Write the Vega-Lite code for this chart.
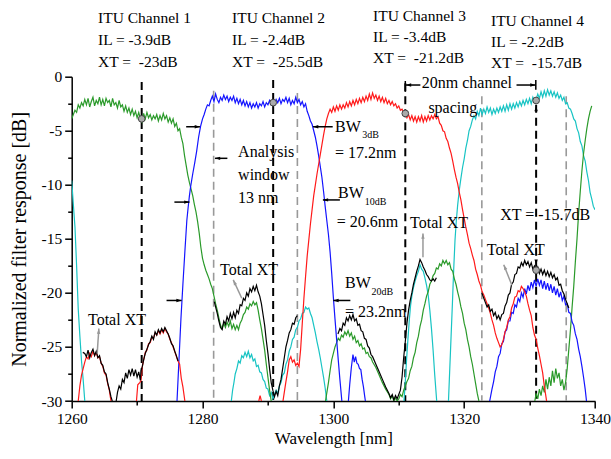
{
"$schema":"https://vega.github.io/schema/vega-lite/v6.json",
"width":523.3,"height":324.3,
"autosize":{"type":"none"},
"padding":{"left":71.7,"top":76.7,"right":16,"bottom":58},
"config":{"view":{"stroke":null},"font":"Liberation Serif",
"axis":{"grid":false,"domainColor":"#000","domainWidth":1.5,"tickColor":"#000","tickWidth":1.5,"labelFont":"Liberation Serif","labelFontSize":15.5,"labelColor":"#000","titleFont":"Liberation Serif","titleFontWeight":"normal","titleColor":"#000","labelFlush":false,"labelOverlap":false}},
"datasets":{
"green":[
{"x":1260.0,"y":-3.9},{"x":1260.25,"y":-3.5},{"x":1260.5,"y":-3.1},{"x":1260.75,"y":-3.3},{"x":1261.0,"y":-2.6},{"x":1261.25,"y":-2.9},{"x":1261.5,"y":-2.4},{"x":1261.75,"y":-2.7},{"x":1262.0,"y":-2.1},{"x":1262.25,"y":-2.6},{"x":1262.5,"y":-2.0},{"x":1262.75,"y":-2.8},{"x":1263.0,"y":-2.3},{"x":1263.25,"y":-1.9},{"x":1263.5,"y":-2.7},{"x":1263.75,"y":-2.2},{"x":1264.0,"y":-2.5},{"x":1264.25,"y":-1.9},{"x":1264.5,"y":-2.6},{"x":1264.75,"y":-2.1},{"x":1265.0,"y":-2.7},{"x":1265.25,"y":-2.0},{"x":1265.5,"y":-2.4},{"x":1265.75,"y":-2.2},{"x":1266.0,"y":-2.8},{"x":1266.25,"y":-2.0},{"x":1266.5,"y":-2.6},{"x":1266.75,"y":-2.4},{"x":1267.0,"y":-2.9},{"x":1267.25,"y":-2.2},{"x":1267.5,"y":-2.8},{"x":1267.75,"y":-2.6},{"x":1268.0,"y":-3.2},{"x":1268.25,"y":-2.7},{"x":1268.5,"y":-3.3},{"x":1268.75,"y":-2.9},{"x":1269.0,"y":-3.5},{"x":1269.25,"y":-3.0},{"x":1269.5,"y":-3.6},{"x":1269.75,"y":-3.2},{"x":1270.0,"y":-3.8},{"x":1270.25,"y":-3.3},{"x":1270.5,"y":-3.9},{"x":1270.75,"y":-4.2},{"x":1271.0,"y":-3.4},{"x":1271.25,"y":-3.9},{"x":1271.5,"y":-3.3},{"x":1271.75,"y":-3.8},{"x":1272.0,"y":-3.5},{"x":1272.25,"y":-4.0},{"x":1272.5,"y":-3.6},{"x":1272.75,"y":-3.9},{"x":1273.0,"y":-3.5},{"x":1273.25,"y":-4.1},{"x":1273.5,"y":-3.6},{"x":1273.75,"y":-4.0},{"x":1274.0,"y":-3.4},{"x":1274.25,"y":-3.9},{"x":1274.5,"y":-3.6},{"x":1274.75,"y":-4.2},{"x":1275.0,"y":-3.8},{"x":1275.25,"y":-4.3},{"x":1275.5,"y":-3.9},{"x":1275.75,"y":-4.6},{"x":1276.0,"y":-4.3},{"x":1276.25,"y":-5.0},{"x":1276.5,"y":-4.8},{"x":1276.75,"y":-5.6},{"x":1277.0,"y":-6.2},{"x":1277.25,"y":-7.3},{"x":1277.5,"y":-8.2},{"x":1277.75,"y":-9.1},{"x":1278.0,"y":-9.8},{"x":1278.25,"y":-10.4},{"x":1278.5,"y":-11.0},{"x":1278.75,"y":-11.8},{"x":1279.0,"y":-12.5},{"x":1279.25,"y":-13.4},{"x":1279.5,"y":-14.5},{"x":1279.75,"y":-15.8},{"x":1280.0,"y":-16.8},{"x":1280.25,"y":-17.4},{"x":1280.5,"y":-17.9},{"x":1280.75,"y":-18.3},{"x":1281.0,"y":-18.7},{"x":1281.25,"y":-19.2},{"x":1281.5,"y":-19.6},{"x":1281.75,"y":-20.3},{"x":1282.0,"y":-21.0},{"x":1282.25,"y":-21.6},{"x":1282.5,"y":-22.3},{"x":1282.75,"y":-23.0},{"x":1283.0,"y":-23.3},{"x":1283.25,"y":-22.8},{"x":1283.5,"y":-23.2},{"x":1283.75,"y":-22.7},{"x":1284.0,"y":-23.1},{"x":1284.25,"y":-22.6},{"x":1284.5,"y":-23.3},{"x":1284.75,"y":-22.9},{"x":1285.0,"y":-23.4},{"x":1285.25,"y":-23.0},{"x":1285.5,"y":-23.4},{"x":1285.75,"y":-22.8},{"x":1286.0,"y":-22.5},{"x":1286.25,"y":-22.0},{"x":1286.5,"y":-21.8},{"x":1286.75,"y":-21.3},{"x":1287.0,"y":-21.5},{"x":1287.25,"y":-21.0},{"x":1287.5,"y":-21.2},{"x":1287.75,"y":-20.8},{"x":1288.0,"y":-21.1},{"x":1288.25,"y":-20.9},{"x":1288.5,"y":-21.6},{"x":1288.75,"y":-22.5},{"x":1289.0,"y":-23.3},{"x":1289.25,"y":-24.3},{"x":1289.5,"y":-25.3},{"x":1289.75,"y":-26.6},{"x":1290.0,"y":-27.8},{"x":1290.25,"y":-29.0},{"x":1290.5,"y":-30.0},
{"x":1298.8,"y":-30,"g":2},{"x":1299.25,"y":-28.3,"g":2},{"x":1299.5,"y":-27.2,"g":2},{"x":1299.75,"y":-26.2,"g":2},{"x":1300.0,"y":-25.6,"g":2},{"x":1300.25,"y":-25.0,"g":2},{"x":1300.5,"y":-24.6,"g":2},{"x":1300.75,"y":-24.2,"g":2},{"x":1301.0,"y":-24.4,"g":2},{"x":1301.25,"y":-23.9,"g":2},{"x":1301.5,"y":-24.1,"g":2},{"x":1301.75,"y":-23.6,"g":2},{"x":1302.0,"y":-23.9,"g":2},{"x":1302.25,"y":-23.5,"g":2},{"x":1302.5,"y":-24.0,"g":2},{"x":1302.75,"y":-23.7,"g":2},{"x":1303.0,"y":-24.3,"g":2},{"x":1303.25,"y":-24.0,"g":2},{"x":1303.5,"y":-24.6,"g":2},{"x":1303.75,"y":-24.4,"g":2},{"x":1304.0,"y":-24.9,"g":2},{"x":1304.25,"y":-24.7,"g":2},{"x":1304.5,"y":-25.2,"g":2},{"x":1304.75,"y":-25.1,"g":2},{"x":1305.0,"y":-25.6,"g":2},{"x":1305.25,"y":-25.5,"g":2},{"x":1305.5,"y":-25.9,"g":2},{"x":1305.75,"y":-26.0,"g":2},{"x":1306.0,"y":-26.4,"g":2},{"x":1306.5,"y":-26.9,"g":2},{"x":1307.0,"y":-27.6,"g":2},{"x":1307.5,"y":-28.3,"g":2},{"x":1308.0,"y":-28.9,"g":2},{"x":1308.5,"y":-29.4,"g":2},{"x":1308.75,"y":-29.8,"g":2},{"x":1309.0,"y":-29.5,"g":2},{"x":1309.25,"y":-30.0,"g":2},{"x":1309.5,"y":-29.7,"g":2},{"x":1309.75,"y":-30.0,"g":2},{"x":1310.0,"y":-29.8,"g":2},{"x":1310.25,"y":-29.4,"g":2},{"x":1310.5,"y":-29.6,"g":2},{"x":1310.75,"y":-29.0,"g":2},{"x":1311.0,"y":-28.6,"g":2},{"x":1311.25,"y":-28.2,"g":2},{"x":1311.5,"y":-27.9,"g":2},{"x":1311.75,"y":-27.2,"g":2},{"x":1312.0,"y":-26.8,"g":2},{"x":1312.25,"y":-26.0,"g":2},{"x":1312.5,"y":-25.5,"g":2},{"x":1312.75,"y":-24.6,"g":2},{"x":1313.0,"y":-24.0,"g":2},{"x":1313.25,"y":-23.1,"g":2},{"x":1313.5,"y":-22.5,"g":2},{"x":1313.75,"y":-21.6,"g":2},{"x":1314.0,"y":-21.0,"g":2},{"x":1314.25,"y":-20.3,"g":2},{"x":1314.5,"y":-19.9,"g":2},{"x":1314.75,"y":-19.2,"g":2},{"x":1315.0,"y":-18.9,"g":2},{"x":1315.25,"y":-18.4,"g":2},{"x":1315.5,"y":-18.2,"g":2},{"x":1315.75,"y":-17.7,"g":2},{"x":1316.0,"y":-17.8,"g":2},{"x":1316.25,"y":-17.3,"g":2},{"x":1316.5,"y":-17.5,"g":2},{"x":1316.75,"y":-17.0,"g":2},{"x":1317.0,"y":-17.3,"g":2},{"x":1317.25,"y":-17.0,"g":2},{"x":1317.5,"y":-17.4,"g":2},{"x":1317.75,"y":-17.2,"g":2},{"x":1318.0,"y":-17.8,"g":2},{"x":1318.25,"y":-18.0,"g":2},{"x":1318.5,"y":-18.7,"g":2},{"x":1318.75,"y":-19.2,"g":2},{"x":1319.0,"y":-19.9,"g":2},{"x":1319.25,"y":-20.5,"g":2},{"x":1319.5,"y":-21.3,"g":2},{"x":1319.75,"y":-21.9,"g":2},{"x":1320.0,"y":-22.8,"g":2},{"x":1320.25,"y":-23.4,"g":2},{"x":1320.5,"y":-24.3,"g":2},{"x":1320.75,"y":-25.0,"g":2},{"x":1321.0,"y":-25.9,"g":2},{"x":1321.25,"y":-26.6,"g":2},{"x":1321.5,"y":-27.5,"g":2},{"x":1321.75,"y":-28.4,"g":2},{"x":1322.0,"y":-29.3,"g":2},{"x":1322.25,"y":-30.0,"g":2},
{"x":1330.8,"y":-30,"g":3},{"x":1331.0,"y":-29.3,"g":3},{"x":1331.25,"y":-29.8,"g":3},{"x":1331.5,"y":-28.9,"g":3},{"x":1331.75,"y":-29.5,"g":3},{"x":1332.0,"y":-28.6,"g":3},{"x":1332.25,"y":-29.2,"g":3},{"x":1332.5,"y":-28.0,"g":3},{"x":1332.75,"y":-28.9,"g":3},{"x":1333.0,"y":-27.8,"g":3},{"x":1333.25,"y":-28.6,"g":3},{"x":1333.5,"y":-27.2,"g":3},{"x":1333.75,"y":-28.3,"g":3},{"x":1334.0,"y":-27.0,"g":3},{"x":1334.25,"y":-27.9,"g":3},{"x":1334.5,"y":-27.4,"g":3},{"x":1334.75,"y":-28.6,"g":3},{"x":1335.0,"y":-28.0,"g":3},{"x":1335.25,"y":-29.0,"g":3},{"x":1335.5,"y":-28.3,"g":3},{"x":1335.75,"y":-27.0,"g":3},{"x":1336.0,"y":-25.2,"g":3},{"x":1336.25,"y":-23.4,"g":3},{"x":1336.5,"y":-21.3,"g":3},{"x":1336.75,"y":-19.4,"g":3},{"x":1337.0,"y":-17.1,"g":3},{"x":1337.25,"y":-15.0,"g":3},{"x":1337.5,"y":-12.6,"g":3},{"x":1337.75,"y":-10.6,"g":3},{"x":1338.0,"y":-8.7,"g":3},{"x":1338.25,"y":-7.1,"g":3},{"x":1338.5,"y":-5.9,"g":3},{"x":1338.75,"y":-4.8,"g":3},{"x":1339.0,"y":-3.9,"g":3},{"x":1339.25,"y":-3.2,"g":3},{"x":1339.5,"y":-2.7,"g":3}
],
"blue":[
{"x":1276.1,"y":-30},{"x":1276.4,"y":-26.2},{"x":1276.7,"y":-22.4},{"x":1277.0,"y":-19.2},{"x":1277.3,"y":-16.2},{"x":1277.6,"y":-13.3},{"x":1277.8,"y":-12.1},{"x":1278.0,"y":-11.0},{"x":1278.2,"y":-10.1},{"x":1278.5,"y":-9.0},{"x":1278.8,"y":-8.0},{"x":1279.1,"y":-6.9},{"x":1279.4,"y":-5.6},{"x":1279.7,"y":-4.6},{"x":1280.0,"y":-3.9},{"x":1280.25,"y":-3.5},{"x":1280.5,"y":-3.0},{"x":1280.75,"y":-2.6},{"x":1281.0,"y":-2.7},{"x":1281.25,"y":-2.2},{"x":1281.5,"y":-1.8},{"x":1281.75,"y":-2.3},{"x":1282.0,"y":-1.6},{"x":1282.25,"y":-2.1},{"x":1282.5,"y":-2.4},{"x":1282.75,"y":-1.9},{"x":1283.0,"y":-2.2},{"x":1283.25,"y":-1.7},{"x":1283.5,"y":-2.1},{"x":1283.75,"y":-1.8},{"x":1284.0,"y":-2.3},{"x":1284.25,"y":-1.9},{"x":1284.5,"y":-2.2},{"x":1284.75,"y":-1.8},{"x":1285.0,"y":-2.4},{"x":1285.25,"y":-2.0},{"x":1285.5,"y":-2.5},{"x":1285.75,"y":-2.1},{"x":1286.0,"y":-2.6},{"x":1286.25,"y":-2.2},{"x":1286.5,"y":-2.7},{"x":1286.75,"y":-2.3},{"x":1287.0,"y":-2.8},{"x":1287.25,"y":-2.4},{"x":1287.5,"y":-2.9},{"x":1287.75,"y":-2.5},{"x":1288.0,"y":-2.8},{"x":1288.25,"y":-2.4},{"x":1288.5,"y":-2.9},{"x":1288.75,"y":-2.5},{"x":1289.0,"y":-2.7},{"x":1289.25,"y":-2.3},{"x":1289.5,"y":-2.8},{"x":1289.75,"y":-2.4},{"x":1290.0,"y":-2.6},{"x":1290.25,"y":-2.2},{"x":1290.5,"y":-2.6},{"x":1290.75,"y":-2.4},{"x":1291.0,"y":-2.5},{"x":1291.25,"y":-2.1},{"x":1291.5,"y":-2.4},{"x":1291.75,"y":-2.0},{"x":1292.0,"y":-2.5},{"x":1292.25,"y":-2.1},{"x":1292.5,"y":-2.3},{"x":1292.75,"y":-1.9},{"x":1293.0,"y":-2.4},{"x":1293.25,"y":-2.0},{"x":1293.5,"y":-2.6},{"x":1293.75,"y":-2.2},{"x":1294.0,"y":-2.5},{"x":1294.25,"y":-1.9},{"x":1294.5,"y":-2.4},{"x":1294.75,"y":-2.1},{"x":1295.0,"y":-2.6},{"x":1295.25,"y":-2.3},{"x":1295.5,"y":-2.8},{"x":1295.75,"y":-2.5},{"x":1296.0,"y":-3.2},{"x":1296.25,"y":-3.6},{"x":1296.5,"y":-4.1},{"x":1296.75,"y":-4.4},{"x":1297.0,"y":-5.0},{"x":1297.25,"y":-5.6},{"x":1297.5,"y":-6.4},{"x":1297.75,"y":-7.3},{"x":1298.0,"y":-8.3},{"x":1298.25,"y":-9.3},{"x":1298.5,"y":-10.6},{"x":1298.75,"y":-12.0},{"x":1299.0,"y":-13.3},{"x":1299.25,"y":-14.6},{"x":1299.5,"y":-16.2},{"x":1299.75,"y":-18.2},{"x":1300.0,"y":-20.4},{"x":1300.25,"y":-22.4},{"x":1300.5,"y":-24.3},{"x":1300.75,"y":-26.2},{"x":1301.0,"y":-28.0},{"x":1301.3,"y":-30},
{"x":1302.3,"y":-30,"g":2},{"x":1302.5,"y":-28.5,"g":2},{"x":1302.75,"y":-26.9,"g":2},{"x":1303.0,"y":-25.7,"g":2},{"x":1303.2,"y":-26.4,"g":2},{"x":1303.4,"y":-25.9,"g":2},{"x":1303.6,"y":-26.5,"g":2},{"x":1303.8,"y":-26.6,"g":2},{"x":1304.0,"y":-27.0,"g":2},{"x":1304.2,"y":-27.1,"g":2},{"x":1304.4,"y":-28.0,"g":2},{"x":1304.6,"y":-28.7,"g":2},{"x":1304.8,"y":-29.6,"g":2},{"x":1304.9,"y":-30,"g":2},
{"x":1323.9,"y":-30,"g":3},{"x":1324.25,"y":-28.9,"g":3},{"x":1324.5,"y":-28.2,"g":3},{"x":1324.75,"y":-27.3,"g":3},{"x":1325.0,"y":-26.8,"g":3},{"x":1325.25,"y":-25.9,"g":3},{"x":1325.5,"y":-25.6,"g":3},{"x":1325.75,"y":-24.7,"g":3},{"x":1326.0,"y":-24.5,"g":3},{"x":1326.25,"y":-23.6,"g":3},{"x":1326.5,"y":-23.4,"g":3},{"x":1326.75,"y":-22.6,"g":3},{"x":1327.0,"y":-22.6,"g":3},{"x":1327.25,"y":-21.8,"g":3},{"x":1327.5,"y":-21.9,"g":3},{"x":1327.75,"y":-21.1,"g":3},{"x":1328.0,"y":-21.3,"g":3},{"x":1328.25,"y":-20.5,"g":3},{"x":1328.5,"y":-20.8,"g":3},{"x":1328.75,"y":-20.0,"g":3},{"x":1329.0,"y":-20.4,"g":3},{"x":1329.25,"y":-19.6,"g":3},{"x":1329.5,"y":-20.1,"g":3},{"x":1329.75,"y":-19.3,"g":3},{"x":1330.0,"y":-19.8,"g":3},{"x":1330.25,"y":-19.0,"g":3},{"x":1330.5,"y":-19.5,"g":3},{"x":1330.75,"y":-18.8,"g":3},{"x":1331.0,"y":-19.4,"g":3},{"x":1331.25,"y":-18.7,"g":3},{"x":1331.5,"y":-19.3,"g":3},{"x":1331.75,"y":-18.8,"g":3},{"x":1332.0,"y":-19.6,"g":3},{"x":1332.25,"y":-18.9,"g":3},{"x":1332.5,"y":-19.7,"g":3},{"x":1332.75,"y":-19.1,"g":3},{"x":1333.0,"y":-19.8,"g":3},{"x":1333.25,"y":-19.2,"g":3},{"x":1333.5,"y":-20.0,"g":3},{"x":1333.75,"y":-19.4,"g":3},{"x":1334.0,"y":-20.2,"g":3},{"x":1334.25,"y":-19.6,"g":3},{"x":1334.5,"y":-20.4,"g":3},{"x":1334.75,"y":-19.9,"g":3},{"x":1335.0,"y":-20.7,"g":3},{"x":1335.25,"y":-20.3,"g":3},{"x":1335.5,"y":-21.1,"g":3},{"x":1335.75,"y":-21.0,"g":3},{"x":1336.0,"y":-21.8,"g":3},{"x":1336.25,"y":-21.9,"g":3},{"x":1336.5,"y":-22.7,"g":3},{"x":1336.75,"y":-23.0,"g":3},{"x":1337.0,"y":-23.8,"g":3},{"x":1337.25,"y":-24.3,"g":3},{"x":1337.5,"y":-25.2,"g":3},{"x":1337.75,"y":-25.9,"g":3},{"x":1338.0,"y":-26.8,"g":3},{"x":1338.25,"y":-27.8,"g":3},{"x":1338.5,"y":-28.9,"g":3},{"x":1338.7,"y":-30,"g":3}
],
"red":[
{"x":1261.0,"y":-30},{"x":1261.25,"y":-28.6},{"x":1261.5,"y":-27.6},{"x":1261.75,"y":-27.0},{"x":1262.0,"y":-26.4},{"x":1262.25,"y":-25.9},{"x":1262.5,"y":-26.1},{"x":1262.75,"y":-25.6},{"x":1263.0,"y":-25.9},{"x":1263.25,"y":-25.4},{"x":1263.5,"y":-25.8},{"x":1263.75,"y":-25.5},{"x":1264.0,"y":-26.0},{"x":1264.25,"y":-25.9},{"x":1264.5,"y":-26.5},{"x":1264.75,"y":-26.8},{"x":1265.0,"y":-27.4},{"x":1265.25,"y":-27.6},{"x":1265.5,"y":-28.4},{"x":1265.75,"y":-29.0},{"x":1266.0,"y":-30},
{"x":1269.9,"y":-30,"g":2},{"x":1270.1,"y":-28.5,"g":2},{"x":1270.4,"y":-28.3,"g":2},{"x":1270.6,"y":-28.1,"g":2},{"x":1270.8,"y":-26.8,"g":2},{"x":1271.0,"y":-26.2,"g":2},{"x":1271.25,"y":-25.5,"g":2},{"x":1271.5,"y":-25.3,"g":2},{"x":1271.75,"y":-24.7,"g":2},{"x":1272.0,"y":-24.6,"g":2},{"x":1272.25,"y":-24.1,"g":2},{"x":1272.5,"y":-24.2,"g":2},{"x":1272.75,"y":-23.7,"g":2},{"x":1273.0,"y":-23.9,"g":2},{"x":1273.25,"y":-23.5,"g":2},{"x":1273.5,"y":-23.8,"g":2},{"x":1273.75,"y":-23.4,"g":2},{"x":1274.0,"y":-23.7,"g":2},{"x":1274.25,"y":-23.3,"g":2},{"x":1274.5,"y":-23.6,"g":2},{"x":1274.75,"y":-23.8,"g":2},{"x":1275.0,"y":-24.3,"g":2},{"x":1275.25,"y":-24.6,"g":2},{"x":1275.5,"y":-25.0,"g":2},{"x":1275.75,"y":-25.4,"g":2},{"x":1276.0,"y":-25.9,"g":2},{"x":1276.25,"y":-26.3,"g":2},{"x":1276.5,"y":-26.6,"g":2},{"x":1276.75,"y":-27.9,"g":2},{"x":1277.0,"y":-28.7,"g":2},{"x":1277.3,"y":-30,"g":2},
{"x":1288.6,"y":-30,"g":3},{"x":1288.8,"y":-29.5,"g":3},{"x":1289.0,"y":-30,"g":3},
{"x":1292.3,"y":-30,"g":4},{"x":1292.5,"y":-29.2,"g":4},{"x":1292.75,"y":-28.2,"g":4},{"x":1293.0,"y":-27.3,"g":4},{"x":1293.25,"y":-26.2,"g":4},{"x":1293.5,"y":-25.9,"g":4},{"x":1293.75,"y":-26.4,"g":4},{"x":1294.0,"y":-26.2,"g":4},{"x":1294.25,"y":-26.7,"g":4},{"x":1294.5,"y":-26.5,"g":4},{"x":1294.75,"y":-26.8,"g":4},{"x":1295.0,"y":-25.2,"g":4},{"x":1295.25,"y":-22.8,"g":4},{"x":1295.5,"y":-20.5,"g":4},{"x":1295.75,"y":-18.5,"g":4},{"x":1296.0,"y":-16.6,"g":4},{"x":1296.25,"y":-15.1,"g":4},{"x":1296.5,"y":-13.6,"g":4},{"x":1296.75,"y":-12.3,"g":4},{"x":1297.0,"y":-11.0,"g":4},{"x":1297.25,"y":-10.0,"g":4},{"x":1297.5,"y":-9.0,"g":4},{"x":1297.75,"y":-8.1,"g":4},{"x":1298.0,"y":-7.2,"g":4},{"x":1298.25,"y":-6.3,"g":4},{"x":1298.5,"y":-5.4,"g":4},{"x":1298.75,"y":-4.6,"g":4},{"x":1299.0,"y":-3.9,"g":4},{"x":1299.25,"y":-3.4,"g":4},{"x":1299.5,"y":-3.0,"g":4},{"x":1299.75,"y":-3.3,"g":4},{"x":1300.0,"y":-2.8,"g":4},{"x":1300.25,"y":-3.2,"g":4},{"x":1300.5,"y":-2.7,"g":4},{"x":1300.75,"y":-3.1,"g":4},{"x":1301.0,"y":-2.6,"g":4},{"x":1301.25,"y":-3.0,"g":4},{"x":1301.5,"y":-2.6,"g":4},{"x":1301.75,"y":-2.9,"g":4},{"x":1302.0,"y":-2.4,"g":4},{"x":1302.25,"y":-2.8,"g":4},{"x":1302.5,"y":-2.3,"g":4},{"x":1302.75,"y":-2.7,"g":4},{"x":1303.0,"y":-2.2,"g":4},{"x":1303.25,"y":-2.6,"g":4},{"x":1303.5,"y":-2.1,"g":4},{"x":1303.75,"y":-2.5,"g":4},{"x":1304.0,"y":-2.0,"g":4},{"x":1304.25,"y":-2.4,"g":4},{"x":1304.5,"y":-1.9,"g":4},{"x":1304.75,"y":-2.3,"g":4},{"x":1305.0,"y":-1.8,"g":4},{"x":1305.25,"y":-2.2,"g":4},{"x":1305.5,"y":-1.6,"g":4},{"x":1305.75,"y":-2.1,"g":4},{"x":1306.0,"y":-1.5,"g":4},{"x":1306.25,"y":-2.0,"g":4},{"x":1306.5,"y":-1.7,"g":4},{"x":1306.75,"y":-2.2,"g":4},{"x":1307.0,"y":-1.8,"g":4},{"x":1307.25,"y":-2.3,"g":4},{"x":1307.5,"y":-1.9,"g":4},{"x":1307.75,"y":-2.4,"g":4},{"x":1308.0,"y":-2.0,"g":4},{"x":1308.25,"y":-2.5,"g":4},{"x":1308.5,"y":-2.2,"g":4},{"x":1308.75,"y":-2.6,"g":4},{"x":1309.0,"y":-2.3,"g":4},{"x":1309.25,"y":-2.7,"g":4},{"x":1309.5,"y":-2.5,"g":4},{"x":1309.75,"y":-2.9,"g":4},{"x":1310.0,"y":-2.7,"g":4},{"x":1310.25,"y":-3.1,"g":4},{"x":1310.5,"y":-3.0,"g":4},{"x":1310.75,"y":-3.3,"g":4},{"x":1311.0,"y":-3.4,"g":4},{"x":1311.25,"y":-3.8,"g":4},{"x":1311.5,"y":-3.5,"g":4},{"x":1311.75,"y":-4.0,"g":4},{"x":1312.0,"y":-3.6,"g":4},{"x":1312.25,"y":-4.1,"g":4},{"x":1312.5,"y":-3.7,"g":4},{"x":1312.75,"y":-4.2,"g":4},{"x":1313.0,"y":-3.7,"g":4},{"x":1313.25,"y":-4.1,"g":4},{"x":1313.5,"y":-3.6,"g":4},{"x":1313.75,"y":-4.2,"g":4},{"x":1314.0,"y":-3.7,"g":4},{"x":1314.25,"y":-4.1,"g":4},{"x":1314.5,"y":-3.6,"g":4},{"x":1314.75,"y":-4.0,"g":4},{"x":1315.0,"y":-3.6,"g":4},{"x":1315.25,"y":-3.9,"g":4},{"x":1315.5,"y":-3.5,"g":4},{"x":1315.75,"y":-3.9,"g":4},{"x":1316.0,"y":-3.7,"g":4},{"x":1316.25,"y":-4.3,"g":4},{"x":1316.5,"y":-4.5,"g":4},{"x":1316.75,"y":-5.0,"g":4},{"x":1317.0,"y":-5.1,"g":4},{"x":1317.25,"y":-5.7,"g":4},{"x":1317.5,"y":-6.0,"g":4},{"x":1317.75,"y":-6.6,"g":4},{"x":1318.0,"y":-7.1,"g":4},{"x":1318.25,"y":-7.8,"g":4},{"x":1318.5,"y":-8.6,"g":4},{"x":1318.75,"y":-9.3,"g":4},{"x":1319.0,"y":-9.9,"g":4},{"x":1319.25,"y":-10.7,"g":4},{"x":1319.5,"y":-11.4,"g":4},{"x":1319.75,"y":-12.3,"g":4},{"x":1320.0,"y":-13.1,"g":4},{"x":1320.25,"y":-13.9,"g":4},{"x":1320.5,"y":-14.6,"g":4},{"x":1320.75,"y":-15.4,"g":4},{"x":1321.0,"y":-15.9,"g":4},{"x":1321.25,"y":-16.5,"g":4},{"x":1321.5,"y":-17.0,"g":4},{"x":1321.75,"y":-17.8,"g":4},{"x":1322.0,"y":-18.3,"g":4},{"x":1322.25,"y":-18.9,"g":4},{"x":1322.5,"y":-19.3,"g":4},{"x":1322.75,"y":-19.9,"g":4},{"x":1323.0,"y":-20.2,"g":4},{"x":1323.25,"y":-20.6,"g":4},{"x":1323.5,"y":-21.0,"g":4},{"x":1323.75,"y":-21.4,"g":4},{"x":1324.0,"y":-21.9,"g":4},{"x":1324.25,"y":-22.5,"g":4},{"x":1324.5,"y":-23.0,"g":4},{"x":1324.75,"y":-23.7,"g":4},{"x":1325.0,"y":-24.2,"g":4},{"x":1325.25,"y":-24.6,"g":4},{"x":1325.5,"y":-25.0,"g":4},{"x":1325.75,"y":-24.8,"g":4},{"x":1326.0,"y":-24.3,"g":4},{"x":1326.25,"y":-23.6,"g":4},{"x":1326.5,"y":-23.2,"g":4},{"x":1326.75,"y":-22.5,"g":4},{"x":1327.0,"y":-22.2,"g":4},{"x":1327.25,"y":-21.4,"g":4},{"x":1327.5,"y":-21.0,"g":4},{"x":1327.75,"y":-20.4,"g":4},{"x":1328.0,"y":-20.3,"g":4},{"x":1328.25,"y":-19.8,"g":4},{"x":1328.5,"y":-19.9,"g":4},{"x":1328.75,"y":-19.4,"g":4},{"x":1329.0,"y":-19.6,"g":4},{"x":1329.25,"y":-19.9,"g":4},{"x":1329.5,"y":-20.3,"g":4},{"x":1329.75,"y":-21.0,"g":4},{"x":1330.0,"y":-21.6,"g":4},{"x":1330.25,"y":-22.1,"g":4},{"x":1330.5,"y":-23.2,"g":4},{"x":1330.75,"y":-23.9,"g":4},{"x":1331.0,"y":-24.3,"g":4},{"x":1331.25,"y":-25.1,"g":4},{"x":1331.5,"y":-25.8,"g":4},{"x":1331.75,"y":-26.6,"g":4},{"x":1332.0,"y":-27.4,"g":4},{"x":1332.25,"y":-28.6,"g":4},{"x":1332.5,"y":-29.6,"g":4},{"x":1332.6,"y":-30,"g":4}
],
"cyan":[
{"x":1260.0,"y":-9.6},{"x":1260.25,"y":-11.8},{"x":1260.5,"y":-13.9},{"x":1260.75,"y":-17.5},{"x":1261.0,"y":-21.5},{"x":1261.25,"y":-24.0},{"x":1261.5,"y":-26.3},{"x":1261.75,"y":-28.0},{"x":1262.0,"y":-30},
{"x":1284.4,"y":-30,"g":2},{"x":1284.6,"y":-29.0,"g":2},{"x":1284.8,"y":-28.3,"g":2},{"x":1285.0,"y":-27.5,"g":2},{"x":1285.25,"y":-27.0,"g":2},{"x":1285.5,"y":-26.3,"g":2},{"x":1285.75,"y":-26.5,"g":2},{"x":1286.0,"y":-25.8,"g":2},{"x":1286.25,"y":-26.0,"g":2},{"x":1286.5,"y":-25.5,"g":2},{"x":1286.75,"y":-25.9,"g":2},{"x":1287.0,"y":-25.4,"g":2},{"x":1287.25,"y":-26.0,"g":2},{"x":1287.5,"y":-25.7,"g":2},{"x":1287.75,"y":-26.3,"g":2},{"x":1288.0,"y":-26.1,"g":2},{"x":1288.25,"y":-26.8,"g":2},{"x":1288.5,"y":-26.7,"g":2},{"x":1288.75,"y":-27.3,"g":2},{"x":1289.0,"y":-27.4,"g":2},{"x":1289.25,"y":-28.0,"g":2},{"x":1289.5,"y":-28.2,"g":2},{"x":1289.75,"y":-28.8,"g":2},{"x":1290.0,"y":-28.9,"g":2},{"x":1290.25,"y":-29.5,"g":2},{"x":1290.5,"y":-29.2,"g":2},{"x":1290.75,"y":-29.8,"g":2},{"x":1291.0,"y":-29.4,"g":2},{"x":1291.25,"y":-29.0,"g":2},{"x":1291.5,"y":-29.3,"g":2},{"x":1291.75,"y":-28.6,"g":2},{"x":1292.0,"y":-28.3,"g":2},{"x":1292.25,"y":-27.6,"g":2},{"x":1292.5,"y":-27.4,"g":2},{"x":1292.75,"y":-26.6,"g":2},{"x":1293.0,"y":-26.2,"g":2},{"x":1293.25,"y":-25.4,"g":2},{"x":1293.5,"y":-25.0,"g":2},{"x":1293.75,"y":-24.3,"g":2},{"x":1294.0,"y":-24.1,"g":2},{"x":1294.25,"y":-23.4,"g":2},{"x":1294.5,"y":-23.2,"g":2},{"x":1294.75,"y":-22.6,"g":2},{"x":1295.0,"y":-22.4,"g":2},{"x":1295.25,"y":-21.9,"g":2},{"x":1295.5,"y":-21.8,"g":2},{"x":1295.75,"y":-21.3,"g":2},{"x":1296.0,"y":-21.5,"g":2},{"x":1296.25,"y":-21.4,"g":2},{"x":1296.5,"y":-21.9,"g":2},{"x":1296.75,"y":-22.3,"g":2},{"x":1297.0,"y":-23.0,"g":2},{"x":1297.25,"y":-23.7,"g":2},{"x":1297.5,"y":-24.5,"g":2},{"x":1297.75,"y":-25.2,"g":2},{"x":1298.0,"y":-26.0,"g":2},{"x":1298.25,"y":-26.9,"g":2},{"x":1298.5,"y":-27.8,"g":2},{"x":1298.75,"y":-28.8,"g":2},{"x":1299.0,"y":-30,"g":2},
{"x":1310.8,"y":-30,"g":3},{"x":1311.0,"y":-28.2,"g":3},{"x":1311.2,"y":-26.1,"g":3},{"x":1311.4,"y":-24.3,"g":3},{"x":1311.6,"y":-22.6,"g":3},{"x":1311.8,"y":-21.2,"g":3},{"x":1312.0,"y":-20.3,"g":3},{"x":1312.25,"y":-19.5,"g":3},{"x":1312.5,"y":-18.9,"g":3},{"x":1312.75,"y":-18.4,"g":3},{"x":1313.0,"y":-18.0,"g":3},{"x":1313.25,"y":-17.4,"g":3},{"x":1313.5,"y":-17.8,"g":3},{"x":1313.75,"y":-18.0,"g":3},{"x":1314.0,"y":-18.6,"g":3},{"x":1314.25,"y":-19.3,"g":3},{"x":1314.5,"y":-20.2,"g":3},{"x":1314.75,"y":-21.6,"g":3},{"x":1315.0,"y":-23.3,"g":3},{"x":1315.25,"y":-25.3,"g":3},{"x":1315.5,"y":-27.6,"g":3},{"x":1315.8,"y":-30,"g":3},
{"x":1317.6,"y":-30,"g":4},{"x":1317.8,"y":-27.0,"g":4},{"x":1318.0,"y":-24.0,"g":4},{"x":1318.2,"y":-21.0,"g":4},{"x":1318.4,"y":-17.8,"g":4},{"x":1318.6,"y":-15.1,"g":4},{"x":1318.8,"y":-13.3,"g":4},{"x":1319.0,"y":-11.9,"g":4},{"x":1319.25,"y":-10.5,"g":4},{"x":1319.5,"y":-9.4,"g":4},{"x":1319.75,"y":-8.4,"g":4},{"x":1320.0,"y":-7.6,"g":4},{"x":1320.25,"y":-6.6,"g":4},{"x":1320.5,"y":-5.9,"g":4},{"x":1320.75,"y":-5.0,"g":4},{"x":1321.0,"y":-4.6,"g":4},{"x":1321.25,"y":-4.0,"g":4},{"x":1321.5,"y":-3.6,"g":4},{"x":1321.75,"y":-3.9,"g":4},{"x":1322.0,"y":-3.2,"g":4},{"x":1322.25,"y":-3.6,"g":4},{"x":1322.5,"y":-2.9,"g":4},{"x":1322.75,"y":-3.5,"g":4},{"x":1323.0,"y":-3.0,"g":4},{"x":1323.25,"y":-3.4,"g":4},{"x":1323.5,"y":-2.8,"g":4},{"x":1323.75,"y":-3.3,"g":4},{"x":1324.0,"y":-2.9,"g":4},{"x":1324.25,"y":-3.5,"g":4},{"x":1324.5,"y":-3.0,"g":4},{"x":1324.75,"y":-3.4,"g":4},{"x":1325.0,"y":-2.9,"g":4},{"x":1325.25,"y":-3.3,"g":4},{"x":1325.5,"y":-2.8,"g":4},{"x":1325.75,"y":-3.2,"g":4},{"x":1326.0,"y":-2.7,"g":4},{"x":1326.25,"y":-3.2,"g":4},{"x":1326.5,"y":-2.6,"g":4},{"x":1326.75,"y":-3.1,"g":4},{"x":1327.0,"y":-2.5,"g":4},{"x":1327.25,"y":-3.0,"g":4},{"x":1327.5,"y":-2.5,"g":4},{"x":1327.75,"y":-2.9,"g":4},{"x":1328.0,"y":-2.4,"g":4},{"x":1328.25,"y":-2.8,"g":4},{"x":1328.5,"y":-2.3,"g":4},{"x":1328.75,"y":-2.7,"g":4},{"x":1329.0,"y":-2.2,"g":4},{"x":1329.25,"y":-2.6,"g":4},{"x":1329.5,"y":-2.1,"g":4},{"x":1329.75,"y":-2.5,"g":4},{"x":1330.0,"y":-2.0,"g":4},{"x":1330.25,"y":-2.5,"g":4},{"x":1330.5,"y":-1.9,"g":4},{"x":1330.75,"y":-2.3,"g":4},{"x":1331.0,"y":-2.1,"g":4},{"x":1331.25,"y":-1.6,"g":4},{"x":1331.5,"y":-2.0,"g":4},{"x":1331.75,"y":-1.4,"g":4},{"x":1332.0,"y":-1.9,"g":4},{"x":1332.25,"y":-1.3,"g":4},{"x":1332.5,"y":-1.8,"g":4},{"x":1332.75,"y":-1.2,"g":4},{"x":1333.0,"y":-1.7,"g":4},{"x":1333.25,"y":-1.3,"g":4},{"x":1333.5,"y":-1.8,"g":4},{"x":1333.75,"y":-1.4,"g":4},{"x":1334.0,"y":-1.9,"g":4},{"x":1334.25,"y":-1.5,"g":4},{"x":1334.5,"y":-2.0,"g":4},{"x":1334.75,"y":-1.7,"g":4},{"x":1335.0,"y":-2.2,"g":4},{"x":1335.25,"y":-1.9,"g":4},{"x":1335.5,"y":-2.5,"g":4},{"x":1335.75,"y":-2.4,"g":4},{"x":1336.0,"y":-2.9,"g":4},{"x":1336.25,"y":-3.0,"g":4},{"x":1336.5,"y":-3.4,"g":4},{"x":1336.75,"y":-3.9,"g":4},{"x":1337.0,"y":-4.1,"g":4},{"x":1337.25,"y":-4.8,"g":4},{"x":1337.5,"y":-5.2,"g":4},{"x":1337.75,"y":-6.0,"g":4},{"x":1338.0,"y":-6.4,"g":4},{"x":1338.25,"y":-7.3,"g":4},{"x":1338.5,"y":-7.8,"g":4},{"x":1338.75,"y":-8.8,"g":4},{"x":1339.0,"y":-9.6,"g":4},{"x":1339.25,"y":-10.7,"g":4},{"x":1339.5,"y":-11.3,"g":4},{"x":1339.75,"y":-12.0,"g":4},{"x":1340.0,"y":-12.3,"g":4}
],
"black":[
{"x":1261.7,"y":-25.5},{"x":1262.0,"y":-25.6},{"x":1262.25,"y":-25.9},{"x":1262.5,"y":-25.3},{"x":1262.75,"y":-26.0},{"x":1263.0,"y":-25.5},{"x":1263.25,"y":-25.2},{"x":1263.5,"y":-25.8},{"x":1263.75,"y":-25.4},{"x":1264.0,"y":-26.0},{"x":1264.25,"y":-25.8},{"x":1264.5,"y":-26.5},{"x":1264.75,"y":-26.7},{"x":1265.0,"y":-27.3},{"x":1265.25,"y":-27.5},{"x":1265.5,"y":-28.3},{"x":1265.75,"y":-28.9},{"x":1266.0,"y":-29.6},{"x":1266.2,"y":-30},
{"x":1266.8,"y":-30,"g":2},{"x":1267.0,"y":-29.2,"g":2},{"x":1267.25,"y":-28.6,"g":2},{"x":1267.5,"y":-28.9,"g":2},{"x":1267.75,"y":-28.0,"g":2},{"x":1268.0,"y":-28.3,"g":2},{"x":1268.25,"y":-27.4,"g":2},{"x":1268.5,"y":-27.9,"g":2},{"x":1268.75,"y":-27.1,"g":2},{"x":1269.0,"y":-27.6,"g":2},{"x":1269.25,"y":-27.0,"g":2},{"x":1269.5,"y":-27.7,"g":2},{"x":1269.75,"y":-27.1,"g":2},{"x":1270.0,"y":-27.8,"g":2},{"x":1270.25,"y":-27.3,"g":2},{"x":1270.5,"y":-28.1,"g":2},{"x":1270.6,"y":-27.2,"g":2},{"x":1270.8,"y":-26.8,"g":2},{"x":1271.0,"y":-26.2,"g":2},{"x":1271.25,"y":-25.6,"g":2},{"x":1271.5,"y":-25.2,"g":2},{"x":1271.75,"y":-24.8,"g":2},{"x":1272.0,"y":-24.5,"g":2},{"x":1272.25,"y":-24.0,"g":2},{"x":1272.5,"y":-24.3,"g":2},{"x":1272.75,"y":-23.6,"g":2},{"x":1273.0,"y":-23.9,"g":2},{"x":1273.25,"y":-23.4,"g":2},{"x":1273.5,"y":-23.7,"g":2},{"x":1273.75,"y":-23.3,"g":2},{"x":1274.0,"y":-23.6,"g":2},{"x":1274.25,"y":-23.2,"g":2},{"x":1274.5,"y":-23.5,"g":2},{"x":1274.75,"y":-23.8,"g":2},{"x":1275.0,"y":-24.2,"g":2},{"x":1275.25,"y":-24.7,"g":2},{"x":1275.5,"y":-24.9,"g":2},{"x":1275.75,"y":-25.4,"g":2},{"x":1276.0,"y":-25.8,"g":2},{"x":1276.25,"y":-26.3,"g":2},
{"x":1281.8,"y":-20.8,"g":3},{"x":1282.0,"y":-21.3,"g":3},{"x":1282.25,"y":-21.9,"g":3},{"x":1282.5,"y":-22.6,"g":3},{"x":1282.75,"y":-23.2,"g":3},{"x":1283.0,"y":-23.4,"g":3},{"x":1283.25,"y":-22.6,"g":3},{"x":1283.5,"y":-22.9,"g":3},{"x":1283.75,"y":-22.2,"g":3},{"x":1284.0,"y":-22.6,"g":3},{"x":1284.25,"y":-21.9,"g":3},{"x":1284.5,"y":-22.4,"g":3},{"x":1284.75,"y":-21.8,"g":3},{"x":1285.0,"y":-22.3,"g":3},{"x":1285.25,"y":-21.6,"g":3},{"x":1285.5,"y":-21.9,"g":3},{"x":1285.75,"y":-21.1,"g":3},{"x":1286.0,"y":-21.2,"g":3},{"x":1286.25,"y":-20.5,"g":3},{"x":1286.5,"y":-20.7,"g":3},{"x":1286.75,"y":-20.0,"g":3},{"x":1287.0,"y":-20.3,"g":3},{"x":1287.25,"y":-19.6,"g":3},{"x":1287.5,"y":-19.9,"g":3},{"x":1287.75,"y":-19.4,"g":3},{"x":1288.0,"y":-19.8,"g":3},{"x":1288.25,"y":-19.3,"g":3},{"x":1288.5,"y":-19.9,"g":3},{"x":1288.75,"y":-20.3,"g":3},{"x":1289.0,"y":-21.0,"g":3},{"x":1289.25,"y":-22.0,"g":3},{"x":1289.5,"y":-23.0,"g":3},{"x":1289.75,"y":-24.4,"g":3},{"x":1290.0,"y":-25.6,"g":3},{"x":1290.25,"y":-27.0,"g":3},{"x":1290.5,"y":-28.3,"g":3},{"x":1290.75,"y":-29.0,"g":3},{"x":1291.0,"y":-29.6,"g":3},{"x":1291.25,"y":-29.1,"g":3},{"x":1291.5,"y":-29.5,"g":3},{"x":1291.75,"y":-28.6,"g":3},{"x":1292.0,"y":-28.0,"g":3},{"x":1292.25,"y":-27.0,"g":3},{"x":1292.5,"y":-26.0,"g":3},{"x":1292.75,"y":-25.0,"g":3},{"x":1293.0,"y":-24.4,"g":3},{"x":1293.25,"y":-23.7,"g":3},{"x":1293.5,"y":-23.4,"g":3},{"x":1293.75,"y":-22.8,"g":3},{"x":1294.0,"y":-22.9,"g":3},{"x":1294.25,"y":-22.3,"g":3},{"x":1294.5,"y":-22.1,"g":3},
{"x":1300.7,"y":-23.8,"g":4},{"x":1301.0,"y":-23.3,"g":4},{"x":1301.25,"y":-23.5,"g":4},{"x":1301.5,"y":-22.8,"g":4},{"x":1301.75,"y":-23.0,"g":4},{"x":1302.0,"y":-22.3,"g":4},{"x":1302.25,"y":-22.6,"g":4},{"x":1302.5,"y":-22.1,"g":4},{"x":1302.75,"y":-22.5,"g":4},{"x":1303.0,"y":-22.0,"g":4},{"x":1303.25,"y":-22.6,"g":4},{"x":1303.5,"y":-22.4,"g":4},{"x":1303.75,"y":-23.0,"g":4},{"x":1304.0,"y":-22.9,"g":4},{"x":1304.25,"y":-23.5,"g":4},{"x":1304.5,"y":-23.6,"g":4},{"x":1304.75,"y":-24.2,"g":4},{"x":1305.0,"y":-24.3,"g":4},{"x":1305.25,"y":-24.9,"g":4},{"x":1305.5,"y":-25.1,"g":4},{"x":1305.75,"y":-25.7,"g":4},{"x":1306.0,"y":-25.9,"g":4},{"x":1306.5,"y":-26.6,"g":4},{"x":1307.0,"y":-27.3,"g":4},{"x":1307.5,"y":-28.0,"g":4},{"x":1308.0,"y":-28.7,"g":4},{"x":1308.5,"y":-29.3,"g":4},{"x":1308.75,"y":-29.7,"g":4},{"x":1309.0,"y":-29.4,"g":4},{"x":1309.25,"y":-29.9,"g":4},{"x":1309.5,"y":-29.5,"g":4},{"x":1309.75,"y":-29.8,"g":4},{"x":1310.0,"y":-29.4,"g":4},{"x":1310.25,"y":-29.0,"g":4},{"x":1310.5,"y":-27.8,"g":4},{"x":1310.75,"y":-26.0,"g":4},{"x":1311.0,"y":-24.5,"g":4},{"x":1311.25,"y":-22.8,"g":4},{"x":1311.5,"y":-21.6,"g":4},{"x":1311.75,"y":-20.7,"g":4},{"x":1312.0,"y":-20.0,"g":4},{"x":1312.25,"y":-19.2,"g":4},{"x":1312.5,"y":-18.6,"g":4},{"x":1312.75,"y":-18.0,"g":4},{"x":1313.0,"y":-17.5,"g":4},{"x":1313.25,"y":-16.9,"g":4},{"x":1313.5,"y":-17.2,"g":4},{"x":1313.75,"y":-17.6,"g":4},{"x":1314.0,"y":-17.9,"g":4},{"x":1314.25,"y":-18.3,"g":4},{"x":1314.5,"y":-18.5,"g":4},{"x":1314.75,"y":-18.8,"g":4},{"x":1315.0,"y":-18.9,"g":4},{"x":1315.25,"y":-18.7,"g":4},{"x":1315.5,"y":-18.9,"g":4},{"x":1315.75,"y":-18.6,"g":4},
{"x":1322.7,"y":-20.0,"g":5},{"x":1323.0,"y":-20.5,"g":5},{"x":1323.25,"y":-20.9,"g":5},{"x":1323.5,"y":-21.3,"g":5},{"x":1323.75,"y":-21.1,"g":5},{"x":1324.0,"y":-21.7,"g":5},{"x":1324.25,"y":-21.5,"g":5},{"x":1324.5,"y":-22.1,"g":5},{"x":1324.75,"y":-21.8,"g":5},{"x":1325.0,"y":-22.4,"g":5},{"x":1325.25,"y":-22.1,"g":5},{"x":1325.5,"y":-22.5,"g":5},{"x":1325.75,"y":-22.0,"g":5},{"x":1326.0,"y":-21.9,"g":5},{"x":1326.25,"y":-21.2,"g":5},{"x":1326.5,"y":-20.9,"g":5},{"x":1326.75,"y":-20.2,"g":5},{"x":1327.0,"y":-20.0,"g":5},{"x":1327.25,"y":-19.2,"g":5},{"x":1327.5,"y":-19.0,"g":5},{"x":1327.75,"y":-18.3,"g":5},{"x":1328.0,"y":-18.2,"g":5},{"x":1328.25,"y":-17.6,"g":5},{"x":1328.5,"y":-17.7,"g":5},{"x":1328.75,"y":-17.2,"g":5},{"x":1329.0,"y":-17.5,"g":5},{"x":1329.25,"y":-17.0,"g":5},{"x":1329.5,"y":-17.4,"g":5},{"x":1329.75,"y":-17.1,"g":5},{"x":1330.0,"y":-17.6,"g":5},{"x":1330.25,"y":-17.2,"g":5},{"x":1330.5,"y":-17.8,"g":5},{"x":1330.75,"y":-17.5,"g":5},{"x":1331.0,"y":-17.9,"g":5},{"x":1331.25,"y":-17.6,"g":5},{"x":1331.5,"y":-18.2,"g":5},{"x":1331.75,"y":-17.8,"g":5},{"x":1332.0,"y":-18.3,"g":5},{"x":1332.25,"y":-17.9,"g":5},{"x":1332.5,"y":-18.4,"g":5},{"x":1332.75,"y":-18.0,"g":5},{"x":1333.0,"y":-18.5,"g":5},{"x":1333.25,"y":-18.1,"g":5},{"x":1333.5,"y":-18.6,"g":5},{"x":1333.75,"y":-18.3,"g":5},{"x":1334.0,"y":-18.8,"g":5},{"x":1334.25,"y":-18.6,"g":5},{"x":1334.5,"y":-19.3,"g":5},{"x":1334.75,"y":-19.2,"g":5},{"x":1335.0,"y":-19.8,"g":5},{"x":1335.25,"y":-20.1,"g":5},{"x":1335.5,"y":-20.6,"g":5},{"x":1335.75,"y":-21.0,"g":5},{"x":1336.0,"y":-21.4,"g":5}
],
"grayRules":[{"x":1281.7,"y":-1.3,"y2":-30},{"x":1294.5,"y":-1.5,"y2":-30},{"x":1322.7,"y":-1.8,"y2":-30},{"x":1335.6,"y":-1.8,"y2":-30}],
"blackRules":[{"x":1270.7,"y":-0.5,"y2":-30},{"x":1290.8,"y":-0.3,"y2":-30},{"x":1311.0,"y":-0.6,"y2":-30},{"x":1331.0,"y":-2.6,"y2":-30}],
"bars":[{"x":1311.0,"y":-0.4,"y2":-1.4},{"x":1330.95,"y":-0.3,"y2":-1.2}],
"circles":[{"x":1270.7,"y":-3.9},{"x":1290.8,"y":-2.4},{"x":1311.0,"y":-3.4},{"x":1331.0,"y":-2.2},{"x":1331.0,"y":-17.9}],
"arrows":[
{"x":1277.5,"y":-4.63,"x2":1279.6,"y2":-4.63,"a":0,"c":"#000"},
{"x":1299.9,"y":-4.63,"x2":1296.9,"y2":-4.63,"a":180,"c":"#000"},
{"x":1275.7,"y":-11.6,"x2":1278.0,"y2":-11.6,"a":0,"c":"#000"},
{"x":1301.0,"y":-11.4,"x2":1298.4,"y2":-11.4,"a":180,"c":"#000"},
{"x":1274.5,"y":-20.7,"x2":1276.8,"y2":-20.7,"a":0,"c":"#000"},
{"x":1302.6,"y":-20.7,"x2":1300.0,"y2":-20.7,"a":180,"c":"#000"},
{"x":1283.8,"y":-7.55,"x2":1281.9,"y2":-7.55,"a":180,"c":"#000"},
{"x":1313.3,"y":-0.77,"x2":1311.1,"y2":-0.77,"a":180,"c":"#000"},
{"x":1328.0,"y":-0.77,"x2":1330.9,"y2":-0.77,"a":0,"c":"#000"},
{"x":1331.0,"y":-2.7,"x2":1331.0,"y2":-2.7,"a":270,"c":"#000"},
{"x":1331.0,"y":-17.4,"x2":1331.0,"y2":-17.4,"a":90,"c":"#000"},
{"x":1263.9,"y":-25.6,"x2":1264.15,"y2":-23.3,"a":273,"c":"#999"},
{"x":1286.0,"y":-20.5,"x2":1284.7,"y2":-18.8,"a":245,"c":"#999"},
{"x":1313.7,"y":-16.7,"x2":1313.7,"y2":-14.5,"a":270,"c":"#999"},
{"x":1327.3,"y":-19.3,"x2":1326.05,"y2":-17.4,"a":247,"c":"#999"}
],
"texts":[
{"x":1264.02,"y":5.41,"t":"ITU Channel 1","s":15.5},
{"x":1264.02,"y":3.4,"t":"IL = -3.9dB","s":15.5},
{"x":1264.02,"y":1.39,"t":"XT = \u00a0-23dB","s":15.5},
{"x":1284.51,"y":5.41,"t":"ITU Channel 2","s":15.5},
{"x":1284.51,"y":3.4,"t":"IL = -2.4dB","s":15.5},
{"x":1284.51,"y":1.39,"t":"XT = \u00a0-25.5dB","s":15.5},
{"x":1306.07,"y":5.62,"t":"ITU Channel 3","s":15.5},
{"x":1306.07,"y":3.7,"t":"IL = -3.4dB","s":15.5},
{"x":1306.07,"y":1.7,"t":"XT = \u00a0-21.2dB","s":15.5},
{"x":1324.1,"y":5.19,"t":"ITU Channel 4","s":15.5},
{"x":1324.1,"y":3.19,"t":"IL = -2.2dB","s":15.5},
{"x":1324.1,"y":1.24,"t":"XT = \u00a0-15.7dB","s":15.5},
{"x":1285.44,"y":-6.94,"t":"Analysis","s":16},
{"x":1285.44,"y":-9.1,"t":"window","s":16},
{"x":1285.44,"y":-11.26,"t":"13 nm","s":16},
{"x":1300.26,"y":-4.63,"t":"BW","s":16},
{"x":1304.4,"y":-5.4,"t":"3dB","s":10},
{"x":1300.26,"y":-7.09,"t":"= 17.2nm","s":16},
{"x":1300.72,"y":-10.8,"t":"BW","s":16},
{"x":1304.8,"y":-11.57,"t":"10dB","s":10},
{"x":1300.52,"y":-13.43,"t":"= 20.6nm","s":16},
{"x":1301.79,"y":-19.13,"t":"BW","s":16},
{"x":1305.85,"y":-19.91,"t":"20dB","s":10},
{"x":1301.79,"y":-21.76,"t":"= 23.2nm","s":16},
{"x":1262.49,"y":-22.53,"t":"Total XT","s":16},
{"x":1282.68,"y":-17.9,"t":"Total XT","s":16},
{"x":1311.73,"y":-13.57,"t":"Total XT","s":16},
{"x":1323.46,"y":-16.05,"t":"Total XT","s":16},
{"x":1325.5,"y":-12.81,"t":"XT = -15.7dB","s":16},
{"x":1313.52,"y":-0.61,"t":"20nm channel","s":16},
{"x":1314.53,"y":-2.93,"t":"spacing","s":16}
]
},
"encoding":{
"x":{"field":"x","type":"quantitative","scale":{"domain":[1260,1340],"nice":false,"zero":false},
"axis":{"values":[1260,1270,1280,1290,1300,1310,1320,1330,1340],"labelExpr":"datum.value % 20 === 0 ? '' + datum.value : ''","tickSize":{"condition":{"test":"datum.value % 20 === 0","value":7},"value":4},"title":"Wavelength [nm]","titleFontSize":17,"titlePadding":4,"labelPadding":3,"labelFont":"Liberation Serif","titleFont":"Liberation Serif","labelFlush":false}},
"y":{"field":"y","type":"quantitative","scale":{"domain":[-30,0],"nice":false,"zero":false},
"axis":{"values":[0,-2.5,-5,-7.5,-10,-12.5,-15,-17.5,-20,-22.5,-25,-27.5,-30],"labelExpr":"datum.value % 5 === 0 ? '' + datum.value : ''","tickSize":{"condition":{"test":"datum.value % 5 === 0","value":7},"value":4},"title":"Normalized filter response [dB]","titleFontSize":20,"titlePadding":12,"labelPadding":3,"labelFont":"Liberation Serif","titleFont":"Liberation Serif","labelFlush":false}}
},
"layer":[
{"data":{"name":"grayRules"},"mark":{"type":"rule","color":"#999","strokeWidth":1.6,"strokeDash":[8,5]},"encoding":{"y2":{"field":"y2"}}},
{"data":{"name":"blackRules"},"mark":{"type":"rule","color":"#000","strokeWidth":2,"strokeDash":[8,5]},"encoding":{"y2":{"field":"y2"}}},
{"data":{"name":"bars"},"mark":{"type":"rule","color":"#000","strokeWidth":1.5},"encoding":{"y2":{"field":"y2"}}},
{"data":{"name":"cyan"},"mark":{"type":"line","color":"#18c4c4","strokeWidth":1.2,"clip":true},"encoding":{"detail":{"field":"g"}}},
{"data":{"name":"green"},"mark":{"type":"line","color":"#2a9a2a","strokeWidth":1.2,"clip":true},"encoding":{"detail":{"field":"g"}}},
{"data":{"name":"blue"},"mark":{"type":"line","color":"#1414ff","strokeWidth":1.2,"clip":true},"encoding":{"detail":{"field":"g"}}},
{"data":{"name":"red"},"mark":{"type":"line","color":"#ff1a1a","strokeWidth":1.2,"clip":true},"encoding":{"detail":{"field":"g"}}},
{"data":{"name":"black"},"mark":{"type":"line","color":"#000","strokeWidth":1.2,"clip":true},"encoding":{"detail":{"field":"g"}}},
{"data":{"name":"circles"},"mark":{"type":"point","filled":true,"fill":"#aaa","stroke":"#444","strokeWidth":1,"size":45,"opacity":1}},
{"data":{"name":"arrows"},"mark":{"type":"rule","strokeWidth":1.5},"encoding":{"x2":{"field":"x2"},"y2":{"field":"y2"},"color":{"field":"c","type":"nominal","scale":null}}},
{"data":{"name":"arrows"},"mark":{"type":"point","shape":"M0,0L-1,-0.32L-1,0.32Z","filled":true,"size":110,"opacity":1},"encoding":{"x":{"field":"x2","type":"quantitative"},"y":{"field":"y2","type":"quantitative"},"angle":{"field":"a","type":"quantitative","scale":null},"color":{"field":"c","type":"nominal","scale":null}}},
{"data":{"name":"texts"},"mark":{"type":"text","align":"left","baseline":"middle","font":"Liberation Serif","color":"#000"},"encoding":{"text":{"field":"t"},"size":{"field":"s","type":"quantitative","scale":null}}}
]
}
